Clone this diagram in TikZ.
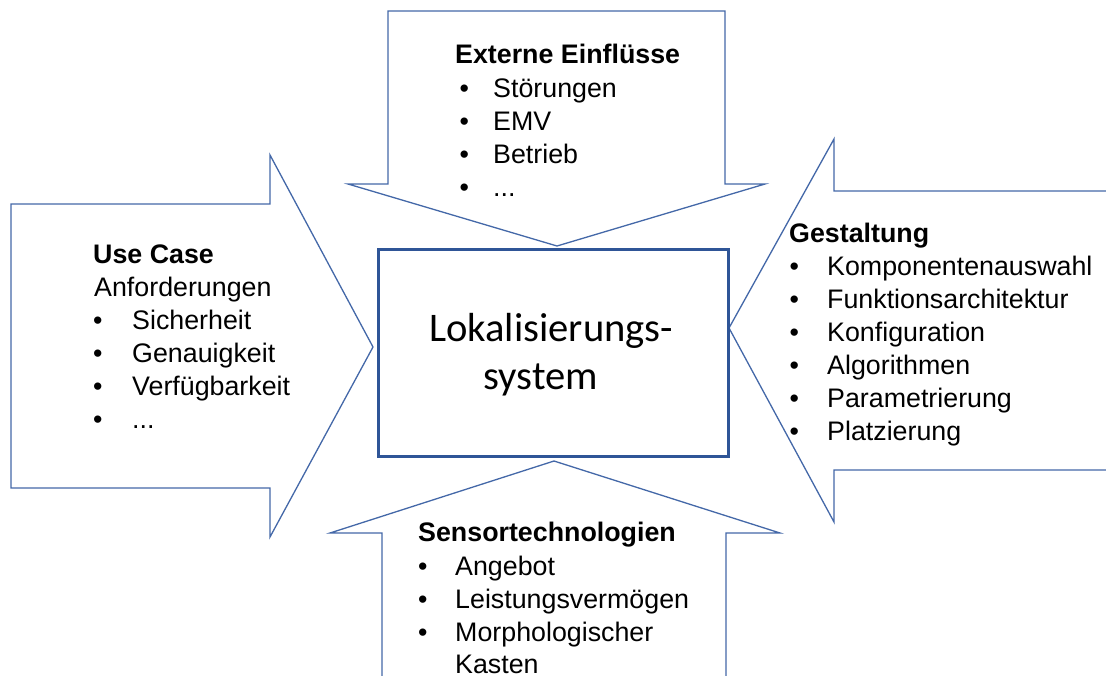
\documentclass[tikz,border=0pt]{standalone}
\usepackage{fontspec}
\setmainfont{Liberation Sans}
\newfontfamily\calibfont{Carlito}
\definecolor{arrowblue}{RGB}{68,104,168}
\definecolor{boxblue}{RGB}{47,85,151}
\newcommand\moredots{...}
\begin{document}
\begin{tikzpicture}[x=1pt,y=-1pt,
  blockarrow/.style={draw=arrowblue, line width=1.3pt, fill=white, line join=miter},
  core/.style={draw=boxblue, line width=3pt, fill=white, inner sep=0pt,
               minimum width=350pt, minimum height=207pt},
  txt/.style={inner sep=0pt, anchor=base west, font=\fontsize{26.8}{33}\selectfont},
  head/.style={txt, font=\fontsize{26.8}{33}\selectfont\bfseries},
  ctr/.style={inner sep=0pt, anchor=base west, font=\calibfont\fontsize{40.6}{48}\selectfont}]
\useasboundingbox (0,0) rectangle (1106,675);
\clip (0,0) rectangle (1106,675);

% block arrows pointing at the system box
\draw[blockarrow] (11,204) -- (270,204) -- (270,155) -- (373,347) -- (270,537)
  -- (270,488) -- (11,488) -- cycle;
\draw[blockarrow] (388,11) -- (725,11) -- (725,184) -- (765,184) -- (557,246)
  -- (348,184) -- (388,184) -- cycle;
\draw[blockarrow] (1120,191) -- (834,191) -- (834,139) -- (729,328) -- (834,522)
  -- (834,470) -- (1120,470) -- cycle;
\draw[blockarrow] (382,690) -- (382,533) -- (330,533) -- (554,461) -- (780,533)
  -- (726,533) -- (726,690) -- cycle;

% central system box
\node[core] (sys) at (553,352.5) {};
\node[ctr] (sysA) at (429,341) {Lokalisierungs-};
\node[ctr] (sysB) at (483.5,389) {system};

% left: use case
\node[head] (lh) at (93,263) {Use Case};
\node[txt] (l0) at (94,296) {Anforderungen};
\foreach \y/\t [count=\i] in {329/Sicherheit, 362/Genauigkeit, 395/Verfügbarkeit, 428/\moredots}{
  \node[txt] (lb\i) at (93,\y) {•};
  \node[txt] (li\i) at (132,\y) {\t};
}

% top: external influences
\node[head] (th) at (455,63) {Externe Einflüsse};
\foreach \y/\t [count=\i] in {97/Störungen, 130/EMV, 163/Betrieb, 196/\moredots}{
  \node[txt] (tb\i) at (459.4,\y) {•};
  \node[txt] (ti\i) at (493,\y) {\t};
}

% right: design
\node[head] (rh) at (789,242) {Gestaltung};
\foreach \y/\t [count=\i] in {275/Komponentenauswahl, 308/Funktionsarchitektur,
    341/Konfiguration, 374/Algorithmen, 407/Parametrierung, 440/Platzierung}{
  \node[txt] (rb\i) at (789.4,\y) {•};
  \node[txt] (ri\i) at (827,\y) {\t};
}

% bottom: sensor technologies
\node[head] (bh) at (418,541) {Sensortechnologien};
\foreach \y/\t [count=\i] in {575/Angebot, 608/Leistungsvermögen, 641/Morphologischer}{
  \node[txt] (bb\i) at (418,\y) {•};
  \node[txt] (bi\i) at (455,\y) {\t};
}
\node[txt] (bi4) at (455,673) {Kasten};
\end{tikzpicture}
\end{document}
